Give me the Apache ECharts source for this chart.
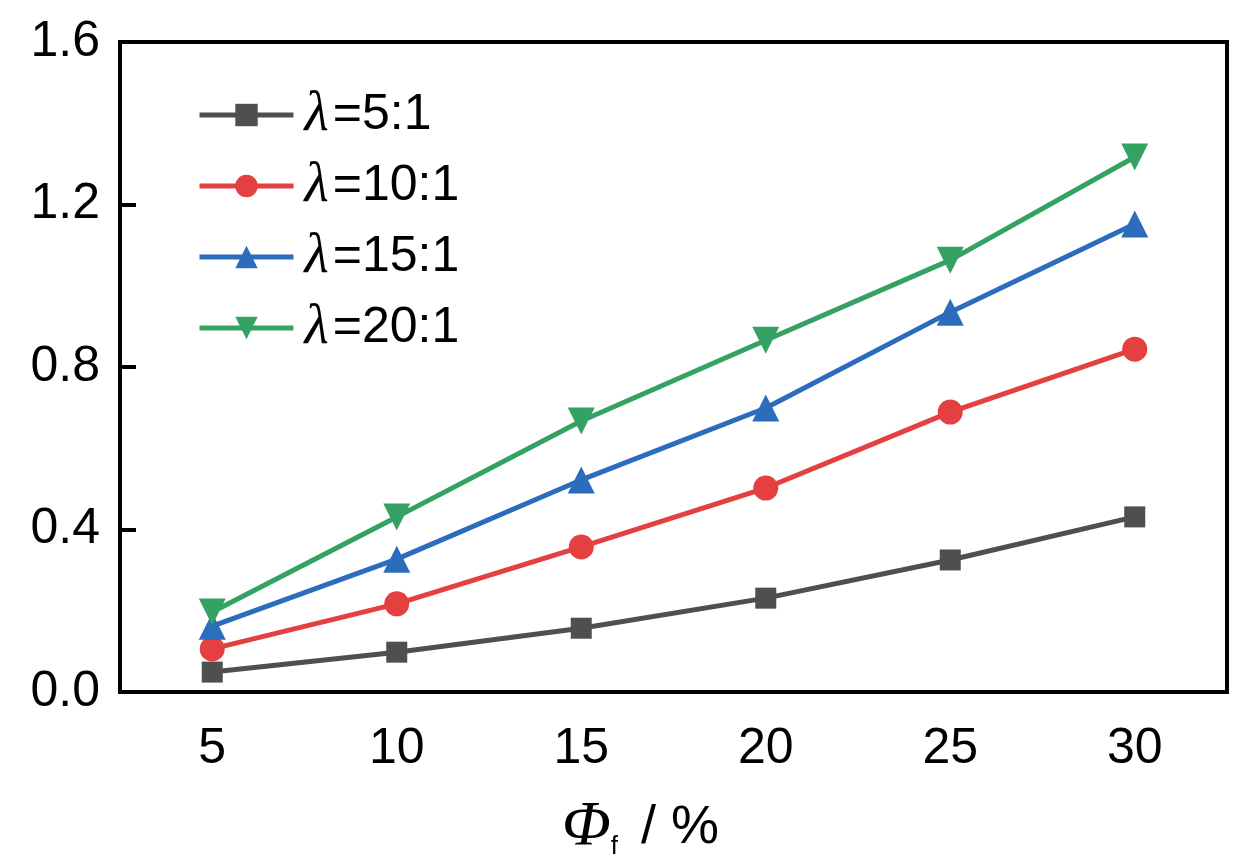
<!DOCTYPE html>
<html>
<head>
<meta charset="utf-8">
<script src="https://cdn.jsdelivr.net/npm/echarts@6/dist/echarts.min.js"></script>
<style>
  html, body { margin: 0; padding: 0; background: #fff; }
  #chart { width: 1258px; height: 864px; }
</style>
</head>
<body>
<div id="chart"></div>
<script>
var phiF = ['5', '10', '15', '20', '25', '30'];
var names = ['5:1', '10:1', '15:1', '20:1'];
var lam5 = [0.049, 0.098, 0.157, 0.231, 0.325, 0.431];
var lam10 = [0.106, 0.217, 0.357, 0.502, 0.689, 0.844];
var lam15 = [0.162, 0.327, 0.522, 0.699, 0.935, 1.152];
var lam20 = [0.197, 0.431, 0.667, 0.866, 1.063, 1.317];

var colors = ['#4f4f4f', '#e3403f', '#2b6cbd', '#34a262'];
var symbols = ['rect', 'circle', 'triangle', 'triangle'];
var rotates = [0, 0, 0, 180];
var sizes = [21, 25, 27, 27];
var seriesData = [lam5, lam10, lam15, lam20];

var chart = echarts.init(document.getElementById('chart'));

var numFont = '"Liberation Sans", Arial, sans-serif';

var series = seriesData.map(function (d, i) {
  return {
    name: names[i],
    type: 'line',
    data: d,
    symbol: symbols[i],
    symbolRotate: rotates[i],
    symbolSize: sizes[i],
    lineStyle: { color: colors[i], width: 5 },
    itemStyle: { color: colors[i] },
    z: 3 + i
  };
});

chart.setOption({
  animation: false,
  color: colors,
  grid: {
    left: 120, right: 31, top: 42, bottom: 172,
    outerBoundsMode: 'none',
    show: true, borderColor: '#000', borderWidth: 4
  },
  legend: {
    left: 192, top: 82,
    orient: 'vertical',
    itemWidth: 94, itemHeight: 28, itemGap: 15,
    lineStyle: { width: 5 },
    data: names,
    formatter: function (n) { return '{l|λ}{t|=' + n + '}'; },
    textStyle: {
      rich: {
        l: { fontFamily: '"Liberation Serif", serif', fontStyle: 'italic', fontSize: 56, color: '#000', padding: [0, 4, 0, 6] },
        t: { fontFamily: numFont, fontSize: 50, color: '#000' }
      }
    }
  },
  xAxis: {
    type: 'category',
    data: phiF,
    boundaryGap: true,
    name: '{phi|Φ}{sub|f}{t| / %}',
    nameLocation: 'middle',
    nameGap: 104,
    nameTextStyle: {
      padding: [0, 66, 0, 0],
      rich: {
        phi: { fontFamily: '"Liberation Serif", serif', fontStyle: 'italic', fontSize: 64, color: '#000' },
        sub: { fontFamily: numFont, fontSize: 26, color: '#000', verticalAlign: 'bottom', padding: [36, 8, 0, 0] },
        t: { fontFamily: numFont, fontSize: 54, color: '#000' }
      }
    },
    axisLine: { lineStyle: { color: '#000', width: 4 } },
    axisTick: { inside: true, alignWithLabel: true, length: 16, lineStyle: { color: '#000', width: 4 } },
    axisLabel: { fontFamily: numFont, fontSize: 50, color: '#000', margin: 32 },
    splitLine: { show: false }
  },
  yAxis: {
    type: 'value',
    min: 0, max: 1.6, interval: 0.4,
    axisLine: { show: true, lineStyle: { color: '#000', width: 4 } },
    axisTick: { show: true, inside: true, length: 16, lineStyle: { color: '#000', width: 4 } },
    axisLabel: {
      fontFamily: numFont, fontSize: 50, color: '#000', margin: 20,
      formatter: function (v) { return v.toFixed(1); }
    },
    splitLine: { show: false }
  },
  series: series
});
</script>
</body>
</html>
